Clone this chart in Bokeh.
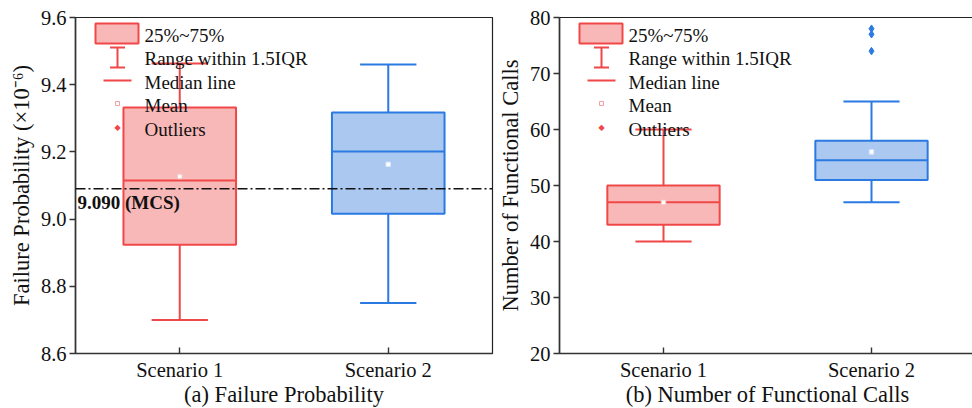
from bokeh.plotting import figure
from bokeh.layouts import row
from bokeh.models import (Range1d, FixedTicker, Span, Label, BoxAnnotation, Arrow,
                          TeeHead, PrintfTickFormatter)
from bokeh.embed import file_html
from bokeh.resources import INLINE

# ---------------- data ----------------
categories = ["Scenario 1", "Scenario 2"]

# (a) Failure probability (x10^-6)
fp_lower = [8.700, 8.750]
fp_q1 = [8.924, 9.016]
fp_median = [9.115, 9.201]
fp_q3 = [9.332, 9.317]
fp_upper = [9.463, 9.460]
fp_mean = [9.127, 9.163]
fp_outlier_cat = []
fp_outlier_val = []
fp_mcs = 9.090
fp_ticks = [8.6, 8.8, 9.0, 9.2, 9.4, 9.6]

# (b) Number of functional calls
fc_lower = [40, 47]
fc_q1 = [43, 51]
fc_median = [47, 54.5]
fc_q3 = [50, 58]
fc_upper = [60, 65]
fc_mean = [47.0, 56.0]
fc_outlier_cat = ["Scenario 2", "Scenario 2", "Scenario 2"]
fc_outlier_val = [74, 77, 78]
fc_ticks = [20, 30, 40, 50, 60, 70, 80]

legend_labels = ["25%~75%", "Range within 1.5IQR", "Median line", "Mean", "Outliers"]

# ---------------- style ----------------
FONT = "Liberation Serif"
RED_LINE, RED_FILL = "#F04848", "#F9B8B8"
BLUE_LINE, BLUE_FILL = "#2A7AE2", "#AAC8F0"
COLORS = [(RED_LINE, RED_FILL), (BLUE_LINE, BLUE_FILL)]
BOX_W = 0.54
CAP_W = 0.27
FRAME_H = 336


def make_panel(ylabel, xlabel, yrange, yticks, lower, q1, med, q3, upper, mean,
               out_cat, out_val, frame_w, border_left, border_right, fmt=None):
    p = figure(frame_width=frame_w, frame_height=FRAME_H,
               x_range=Range1d(0.5, len(categories) + 0.5), y_range=Range1d(*yrange),
               output_backend="svg", toolbar_location=None,
               min_border_left=border_left, min_border_right=border_right,
               min_border_top=17, min_border_bottom=55)
    p.xgrid.grid_line_color = None
    p.ygrid.grid_line_color = None
    p.outline_line_color = "#222222"
    p.outline_line_width = 1.2
    p.background_fill_color = "white"
    p.border_fill_color = "white"

    xs = [i + 1 for i in range(len(categories))]
    p.xaxis.ticker = FixedTicker(ticks=xs)
    p.xaxis.major_label_overrides = {x: c for x, c in zip(xs, categories)}
    p.yaxis.ticker = FixedTicker(ticks=yticks)
    if fmt:
        p.yaxis.formatter = PrintfTickFormatter(format=fmt)
    for ax in (p.xaxis[0], p.yaxis[0]):
        ax.axis_line_color = "#333333"
        ax.axis_line_width = 1.6
        ax.major_tick_line_color = "#333333"
        ax.major_tick_line_width = 1.4
        ax.minor_tick_line_color = None
        ax.major_label_text_font = FONT
        ax.major_label_text_font_size = "20.5px"
        ax.major_label_text_color = "#111111"
        ax.axis_label_text_font = FONT
        ax.axis_label_text_font_size = "22.5px"
        ax.axis_label_text_font_style = "normal"
        ax.axis_label_text_color = "#111111"
    p.xaxis.major_tick_in = 6
    p.xaxis.major_tick_out = 0
    p.yaxis.major_tick_in = 0
    p.yaxis.major_tick_out = 6
    p.xaxis.major_label_standoff = 5
    p.xaxis.axis_label_standoff = -2
    p.yaxis.major_label_standoff = 3
    p.yaxis.axis_label_standoff = 4
    p.xaxis.axis_label = xlabel
    p.yaxis.axis_label = ylabel

    lines = [COLORS[i][0] for i in range(len(xs))]
    fills = [COLORS[i][1] for i in range(len(xs))]
    # whiskers
    p.segment(x0=xs, y0=q3, x1=xs, y1=upper, line_color=lines, line_width=2)
    p.segment(x0=xs, y0=lower, x1=xs, y1=q1, line_color=lines, line_width=2)
    p.segment(x0=[x - CAP_W / 2 for x in xs], y0=upper, x1=[x + CAP_W / 2 for x in xs], y1=upper,
              line_color=lines, line_width=2)
    p.segment(x0=[x - CAP_W / 2 for x in xs], y0=lower, x1=[x + CAP_W / 2 for x in xs], y1=lower,
              line_color=lines, line_width=2)
    # boxes
    p.vbar(x=xs, width=BOX_W, bottom=q1, top=q3, fill_color=fills, line_color=lines, line_width=2)
    # median
    p.segment(x0=[x - BOX_W / 2 for x in xs], y0=med, x1=[x + BOX_W / 2 for x in xs], y1=med,
              line_color=lines, line_width=2)
    # mean
    p.scatter(x=xs, y=mean, marker="square", size=4.5, fill_color="white",
              line_color=["#F6C8C8", "#D6E4F7"], line_width=1)
    # outliers
    if out_val:
        ox = [categories.index(c) + 1 for c in out_cat]
        oc = [COLORS[categories.index(c)][0] for c in out_cat]
        p.scatter(x=ox, y=out_val, marker="diamond", size=7.5, fill_color=oc, line_color=oc)

    # ---- legend (drawn manually, frame-relative screen units) ----
    def sy(y_down):
        return FRAME_H - y_down
    p.add_layout(BoxAnnotation(left=20, right=63, top=sy(6), bottom=sy(26),
                               left_units="screen", right_units="screen",
                               top_units="screen", bottom_units="screen",
                               fill_color=RED_FILL, fill_alpha=1, line_color=RED_LINE,
                               line_width=2, line_alpha=1))
    p.add_layout(Arrow(x_start=42, y_start=sy(50), x_end=42, y_end=sy(30),
                       start_units="screen", end_units="screen",
                       start=TeeHead(size=15, line_color=RED_LINE, line_width=2),
                       end=TeeHead(size=15, line_color=RED_LINE, line_width=2),
                       line_color=RED_LINE, line_width=2))
    p.add_layout(Arrow(x_start=28, y_start=sy(63), x_end=56, y_end=sy(63),
                       start_units="screen", end_units="screen", start=None, end=None,
                       line_color=RED_LINE, line_width=2))
    p.add_layout(BoxAnnotation(left=40, right=44, top=sy(84), bottom=sy(88),
                               left_units="screen", right_units="screen",
                               top_units="screen", bottom_units="screen",
                               fill_color="white", fill_alpha=1, line_color="#F4A0A0",
                               line_width=1, line_alpha=1))
    p.add_layout(Label(x=42, y=sy(110), x_units="screen", y_units="screen", text="\u25c6",
                       text_font="DejaVu Sans", text_font_size="8px", text_color=RED_LINE,
                       text_align="center", text_baseline="middle"))
    for i, t in enumerate(legend_labels):
        p.add_layout(Label(x=69, y=sy(18 + i * 23.4), x_units="screen", y_units="screen",
                           text=t, text_font=FONT, text_font_size="19px", text_color="#111111",
                           text_align="left", text_baseline="middle"))
    return p


p1 = make_panel("Failure Probability (\u00d710\u207b\u2076)", "(a) Failure Probability",
                (fp_ticks[0], fp_ticks[-1]), fp_ticks, fp_lower, fp_q1, fp_median, fp_q3,
                fp_upper, fp_mean, fp_outlier_cat, fp_outlier_val, 417, 75, 2, fmt="%.1f")
p1.add_layout(Span(location=fp_mcs, dimension="width", line_color="#111111",
                   line_width=1.5, line_dash="10 3 2 3"))
p1.add_layout(Label(x=0.5, y=fp_mcs, x_offset=2, y_offset=-3, text=f"{fp_mcs:.3f} (MCS)",
                    text_font=FONT, text_font_size="19px", text_font_style="bold",
                    text_color="#111111", text_align="left", text_baseline="top"))

p2 = make_panel("Number of Functional Calls", "(b) Number of Functional Calls",
                (fc_ticks[0], fc_ticks[-1]), fc_ticks, fc_lower, fc_q1, fc_median, fc_q3,
                fc_upper, fc_mean, fc_outlier_cat, fc_outlier_val, 416, 60, 2)

layout = row(p1, p2)
layout.spacing = 0
open("out.html", "w").write(file_html(layout, INLINE))
